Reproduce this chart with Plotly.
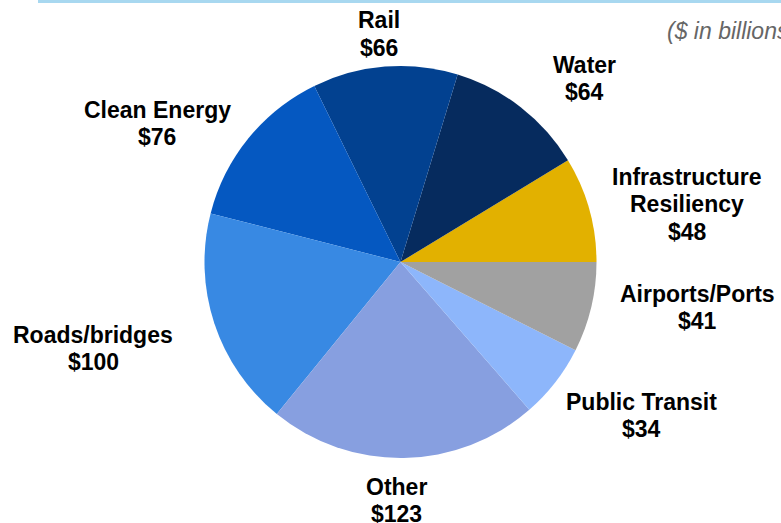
import plotly.graph_objects as go

categories = ["Infrastructure Resiliency", "Water", "Rail", "Clean Energy",
              "Roads/bridges", "Other", "Public Transit", "Airports/Ports"]
values = [48, 64, 66, 76, 100, 123, 34, 41]
colors = ["#E2B100", "#062B5E", "#024190", "#0558C1",
          "#3889E3", "#879FE0", "#8DB6FB", "#A1A1A1"]

# how each label is broken into lines (text) and where each line sits (layout, px)
label_lines = [["Infrastructure", "Resiliency"], ["Water"], ["Rail"], ["Clean Energy"],
               ["Roads/bridges"], ["Other"], ["Public Transit"], ["Airports/Ports"]]
label_x = [687, 584, 379, 157, 93, 396, 641, 697]
label_y0 = [175, 63, 19, 108, 333, 485, 400, 292]
line_gap = 27.5

W, H = 781, 523
cx, cy, r = 400.5, 262, 196

total = sum(values)
fig = go.Figure(go.Pie(
    labels=categories, values=values, sort=False,
    direction="counterclockwise", rotation=90 - values[0] / total * 360,
    marker=dict(colors=colors, line=dict(width=0)),
    textinfo="none", hoverinfo="label+value", showlegend=False,
    domain=dict(x=[(cx - r) / W, (cx + r) / W], y=[1 - (cy + r) / H, 1 - (cy - r) / H]),
))

annotations = []
for lines, val, px, py in zip(label_lines, values, label_x, label_y0):
    for k, txt in enumerate(lines + [f"${val}"]):
        y = py + k * line_gap + 1.5
        annotations.append(dict(
            x=px / W, y=1 - y / H, xref="paper", yref="paper",
            text=f"<b>{txt}</b>", showarrow=False,
            xanchor="center", yanchor="middle", align="center",
            font=dict(family="Liberation Sans, Arial", size=23, color="#000000"),
        ))
annotations.append(dict(
    x=665 / W, y=1 - 31 / H, xref="paper", yref="paper",
    text="<i>($ in billions)</i>", showarrow=False,
    xanchor="left", yanchor="middle",
    font=dict(family="Liberation Sans, Arial", size=23, color="#666666"),
))

fig.update_layout(
    width=W, height=H, margin=dict(l=0, r=0, t=0, b=0),
    paper_bgcolor="white", plot_bgcolor="white",
    annotations=annotations,
    shapes=[dict(type="line", xref="paper", yref="paper",
                 x0=38 / W, x1=1, y0=1 - 1.5 / H, y1=1 - 1.5 / H,
                 line=dict(color="#A8D8F0", width=3))],
)

fig.write_html("out.html", config={"displayModeBar": False},
               post_script="document.body.style.margin='0';document.body.style.overflow='hidden';")
